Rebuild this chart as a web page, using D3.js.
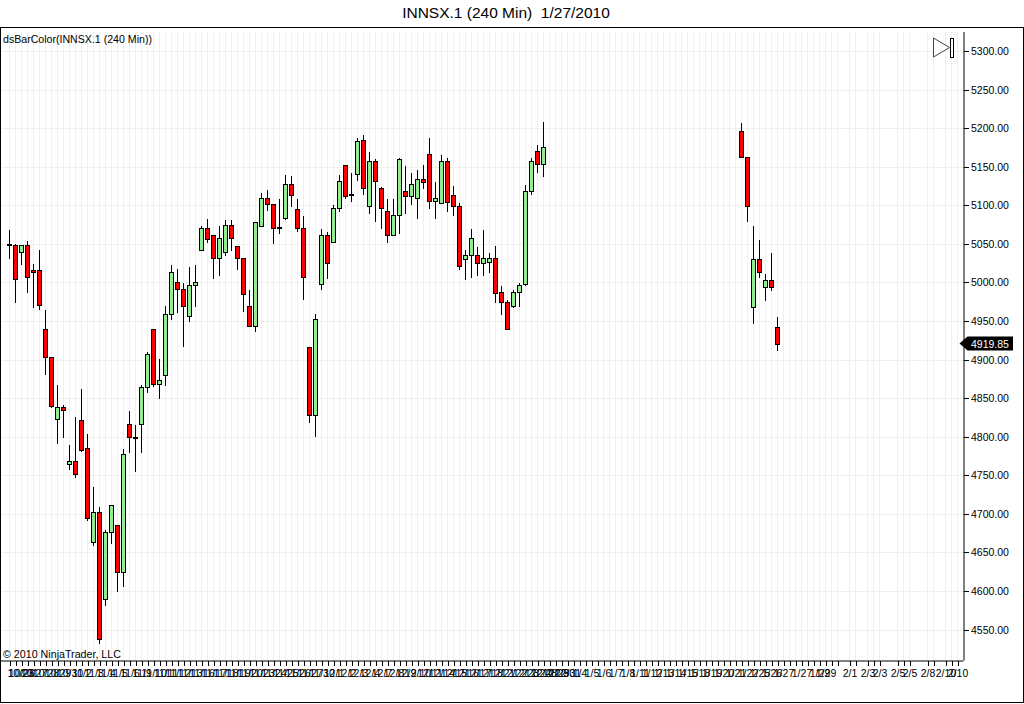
<!DOCTYPE html>
<html>
<head>
<meta charset="utf-8">
<title>INNSX.1 (240 Min)</title>
<script src="https://cdn.jsdelivr.net/npm/d3@7"></script>
<style>
  body { margin: 0; background: white; }
  text { font-family: "Liberation Sans", Arial, sans-serif; fill: black; }
</style>
</head>
<body>
<div id="chart"></div>
<script>
// Bar data. Slots are positions on the time axis (bars stop at 89, resume at 122)
const barSlots = [...d3.range(0, 90), ...d3.range(122, 129)];
const opens = [5050,5048,5040,5048,5016,5016,4940,4903,4823,4838,4765,4768,4821,4785,4664,4702,4589,4677,4685,4625,
  4816,4800,4816,4865,4939,4868,4880,4959,5000,4992,4956,4996,5042,5071,5061,5032,5040,5075,5047,5031,
  4970,4943,5073,5110,5101,5072,5084,5127,5095,5071,4916,4828,4998,5061,5052,5097,5152,5113,5141,5184,
  5099,5157,5123,5093,5062,5087,5119,5112,5110,5134,5167,5106,5103,5157,5113,5099,5030,5035,5035,5025,
  5027,5032,4988,4975,4970,4987,4998,5119,5170,5154,
  5196,5163,4968,5030,4994,5003,4942];
const closes = [5048,5004,5048,5007,5014,4971,4903,4840,4839,4834,4768,4751,4783,4695,4702,4538,4677,4711,4625,4777,
  4799,4798,4865,4907,4868,4873,4959,5014,4992,4970,4996,5001,5071,5056,5032,5058,5075,5057,5031,4985,
  4944,5078,5110,5102,5071,5070,5127,5113,5071,5007,4828,4953,5061,5025,5096,5131,5112,5115,5183,5123,
  5157,5131,5096,5061,5087,5160,5112,5127,5134,5130,5106,5110,5157,5104,5099,5021,5035,5058,5025,5031,
  5032,4986,4975,4939,4987,4996,5119,5157,5154,5176,
  5163,5099,5030,5014,5003,4994,4919.85];
const highs = [5069,5051,5050,5055,5025,5043,4965,4905,4868,4842,4791,4827,4863,4805,4736,4710,4680,4713,4686,4785,
  4835,4816,4868,4911,4940,4902,4971,5024,5019,5000,5021,5024,5075,5083,5061,5074,5082,5082,5048,5031,
  4992,5078,5117,5121,5101,5110,5140,5139,5109,5088,4916,4960,5070,5066,5101,5140,5153,5143,5188,5192,
  5171,5161,5125,5109,5110,5163,5152,5143,5147,5154,5188,5132,5167,5162,5126,5104,5043,5071,5047,5069,
  5039,5048,4996,4979,4991,5000,5128,5162,5180,5209,
  5208,5163,5075,5056,5012,5040,4956];
const lows = [5032,4974,5024,4988,4968,4965,4881,4838,4792,4799,4758,4748,4782,4692,4660,4533,4582,4662,4600,4606,
  4780,4755,4780,4858,4866,4850,4867,4953,4962,4918,4950,4970,5042,5053,5006,5010,5036,5042,5018,4963,
  4944,4937,5073,5094,5051,5064,5082,5099,5066,4979,4819,4801,4991,5006,5052,5092,5110,5105,5133,5115,
  5090,5079,5070,5052,5061,5064,5090,5101,5083,5123,5097,5083,5103,5092,5088,5018,5005,5007,5009,5010,
  5014,4975,4959,4939,4968,4969,4996,5115,5143,5138,
  5162,5079,4948,5007,4977,4990,4913];

// Axis values
const priceTicks = [5300,5250,5200,5150,5100,5050,5000,4950,4900,4850,4800,4750,4700,4650,4600,4550];
const timeTicks = [...d3.range(0, 139), 140, 141, 143, 144, 145, 148, 149, 150, 153, 154, 156, 157, 158];
const labelSlots = [0,2,4,6,8,10,12,14,16,18,20,22,24,26,28,30,32,34,36,38,40,42,44,46,48,50,52,
  54,56,58,60,62,64,66,68,70,72,74,76,78,80,82,84,86,88,89,91,92,93,95,
  97,99,101,103,105,107,109,111,113,115,117,119,121,123,125,127,129,132,135,136,140,143,145,148,150,153,156,158];
const tickLabels = ["10/23","10/26","10/27","10/28","10/29","10/30","11/2","11/3","11/4","11/5","11/6","11/9","11/10","11/11","11/12","11/13",
  "11/16","11/17","11/18","11/19","11/20","11/23","11/24","11/25","11/26","11/27","11/30",
  "12/1","12/2","12/3","12/4","12/7","12/8","12/9","12/10","12/11","12/14","12/15","12/16","12/17","12/18","12/21","12/22","12/23","12/24","12/28","12/29","12/30","12/31","1/4",
  "1/5","1/6","1/7","1/8","1/11","1/12","1/13","1/14","1/15","1/18","1/19","1/20","1/21","1/22","1/25","1/26","1/27","1/27","1/29","1/29","2/1","2/3","2/3","2/5","2/5","2/8","2/10","2/10"];
const lastPrice = 4919.85;

const GRID = "#f0f0e6", UP = "#90ee90", DOWN = "#ff0000";

const bars = barSlots.map((slot, i) => ({ slot, open: opens[i], close: closes[i], high: highs[i], low: lows[i] }));

const svg = d3.select("#chart").append("svg")
    .attr("width", 1024)
    .attr("height", 704)
    .style("display", "block");

// Scales
const x = d3.scaleLinear().domain([0, 158]).range([9.5, 957.5]);
const y = d3.scaleLinear().domain([4550, 5300]).range([629.5, 51]);
const py = v => Math.round(y(v)) + 0.5;

const plotRight = 963.5, plotTop = 32, plotBottom = 660.5;

// Grid
const grid = svg.append("g").attr("stroke", GRID).attr("shape-rendering", "crispEdges");
grid.selectAll(".v").data(timeTicks).join("line")
    .attr("x1", d => x(d)).attr("x2", d => x(d))
    .attr("y1", plotTop).attr("y2", plotBottom);
grid.selectAll(".h").data(priceTicks).join("line")
    .attr("x1", 2).attr("x2", plotRight)
    .attr("y1", py).attr("y2", py);

// Outer frame
svg.append("rect")
    .attr("x", 0.5).attr("y", 27.5)
    .attr("width", 1023).attr("height", 675)
    .attr("fill", "none").attr("stroke", "black")
    .attr("shape-rendering", "crispEdges");

// Axes
const xAxis = svg.append("g")
    .attr("transform", `translate(0,${plotBottom})`)
    .call(d3.axisBottom(x)
        .tickValues(timeTicks)
        .tickSize(5)
        .tickPadding(4)
        .tickFormat(d => {
            const k = labelSlots.indexOf(d);
            return k < 0 ? "" : tickLabels[k];
        }));
xAxis.select(".domain").attr("d", `M0.5,0.5H${plotRight}`).attr("stroke", "black");
xAxis.selectAll(".tick line").attr("stroke", "black").attr("shape-rendering", "crispEdges");
xAxis.selectAll(".tick text").attr("font-size", 10.5).attr("fill", "black")
    .attr("font-family", '"Liberation Sans", Arial, sans-serif');
// first label can't hang off the left edge
xAxis.selectAll(".tick text").filter(d => d === 0).attr("text-anchor", "start").attr("x", -2.5);

const yAxis = svg.append("g")
    .attr("transform", `translate(${plotRight},0)`)
    .call(d3.axisRight(y)
        .tickValues(priceTicks)
        .tickSize(5)
        .tickPadding(2.5)
        .tickFormat(d3.format(".2f")));
yAxis.select(".domain").attr("d", `M0.5,${plotTop}V${plotBottom}`).attr("stroke", "black");
yAxis.selectAll(".tick").attr("transform", d => `translate(0,${py(d)})`);
yAxis.selectAll(".tick line").attr("stroke", "black").attr("shape-rendering", "crispEdges");
yAxis.selectAll(".tick text").attr("font-size", 10.5).attr("fill", "black")
    .attr("font-family", '"Liberation Sans", Arial, sans-serif');

// Candles
const candles = svg.append("g").attr("shape-rendering", "crispEdges");
candles.selectAll(".wick").data(bars).join("line")
    .attr("class", "wick")
    .attr("x1", d => x(d.slot)).attr("x2", d => x(d.slot))
    .attr("y1", d => py(d.high)).attr("y2", d => py(d.low))
    .attr("stroke", "black");
candles.selectAll(".body").data(bars).join("rect")
    .attr("class", "body")
    .attr("x", d => x(d.slot) - 2)
    .attr("width", 4)
    .attr("y", d => py(Math.max(d.open, d.close)))
    .attr("height", d => py(Math.min(d.open, d.close)) - py(Math.max(d.open, d.close)))
    .attr("fill", d => d.close >= d.open ? UP : DOWN)
    .attr("stroke", "black");

// Last price tag
const tagY = py(lastPrice) - 1;
svg.append("path")
    .attr("d", `M${plotRight - 4},${tagY} l8,-7 h45.5 v14 h-45.5 z`)
    .attr("fill", "black");
svg.append("text")
    .attr("x", 971).attr("y", tagY + 4)
    .attr("font-size", 10.5)
    .style("fill", "white")
    .text(d3.format(".2f")(lastPrice));

// Title and captions
svg.append("text")
    .attr("x", 506).attr("y", 18)
    .attr("text-anchor", "middle")
    .attr("font-size", 15.5)
    .style("white-space", "pre")
    .text("INNSX.1 (240 Min)  1/27/2010");
svg.append("text")
    .attr("x", 3).attr("y", 43)
    .attr("font-size", 10.6)
    .text("dsBarColor(INNSX.1 (240 Min))");
svg.append("text")
    .attr("x", 3).attr("y", 658)
    .attr("font-size", 10.7)
    .text("\u00a9 2010 NinjaTrader, LLC");

// Scroll-to-end button
svg.append("path")
    .attr("d", "M933.5,38 L949.5,47.5 L933.5,57 Z")
    .attr("fill", "white").attr("stroke", "#444");
svg.append("rect")
    .attr("x", 950.5).attr("y", 38)
    .attr("width", 3).attr("height", 19)
    .attr("fill", "white").attr("stroke", "black")
    .attr("shape-rendering", "crispEdges");
</script>
</body>
</html>
